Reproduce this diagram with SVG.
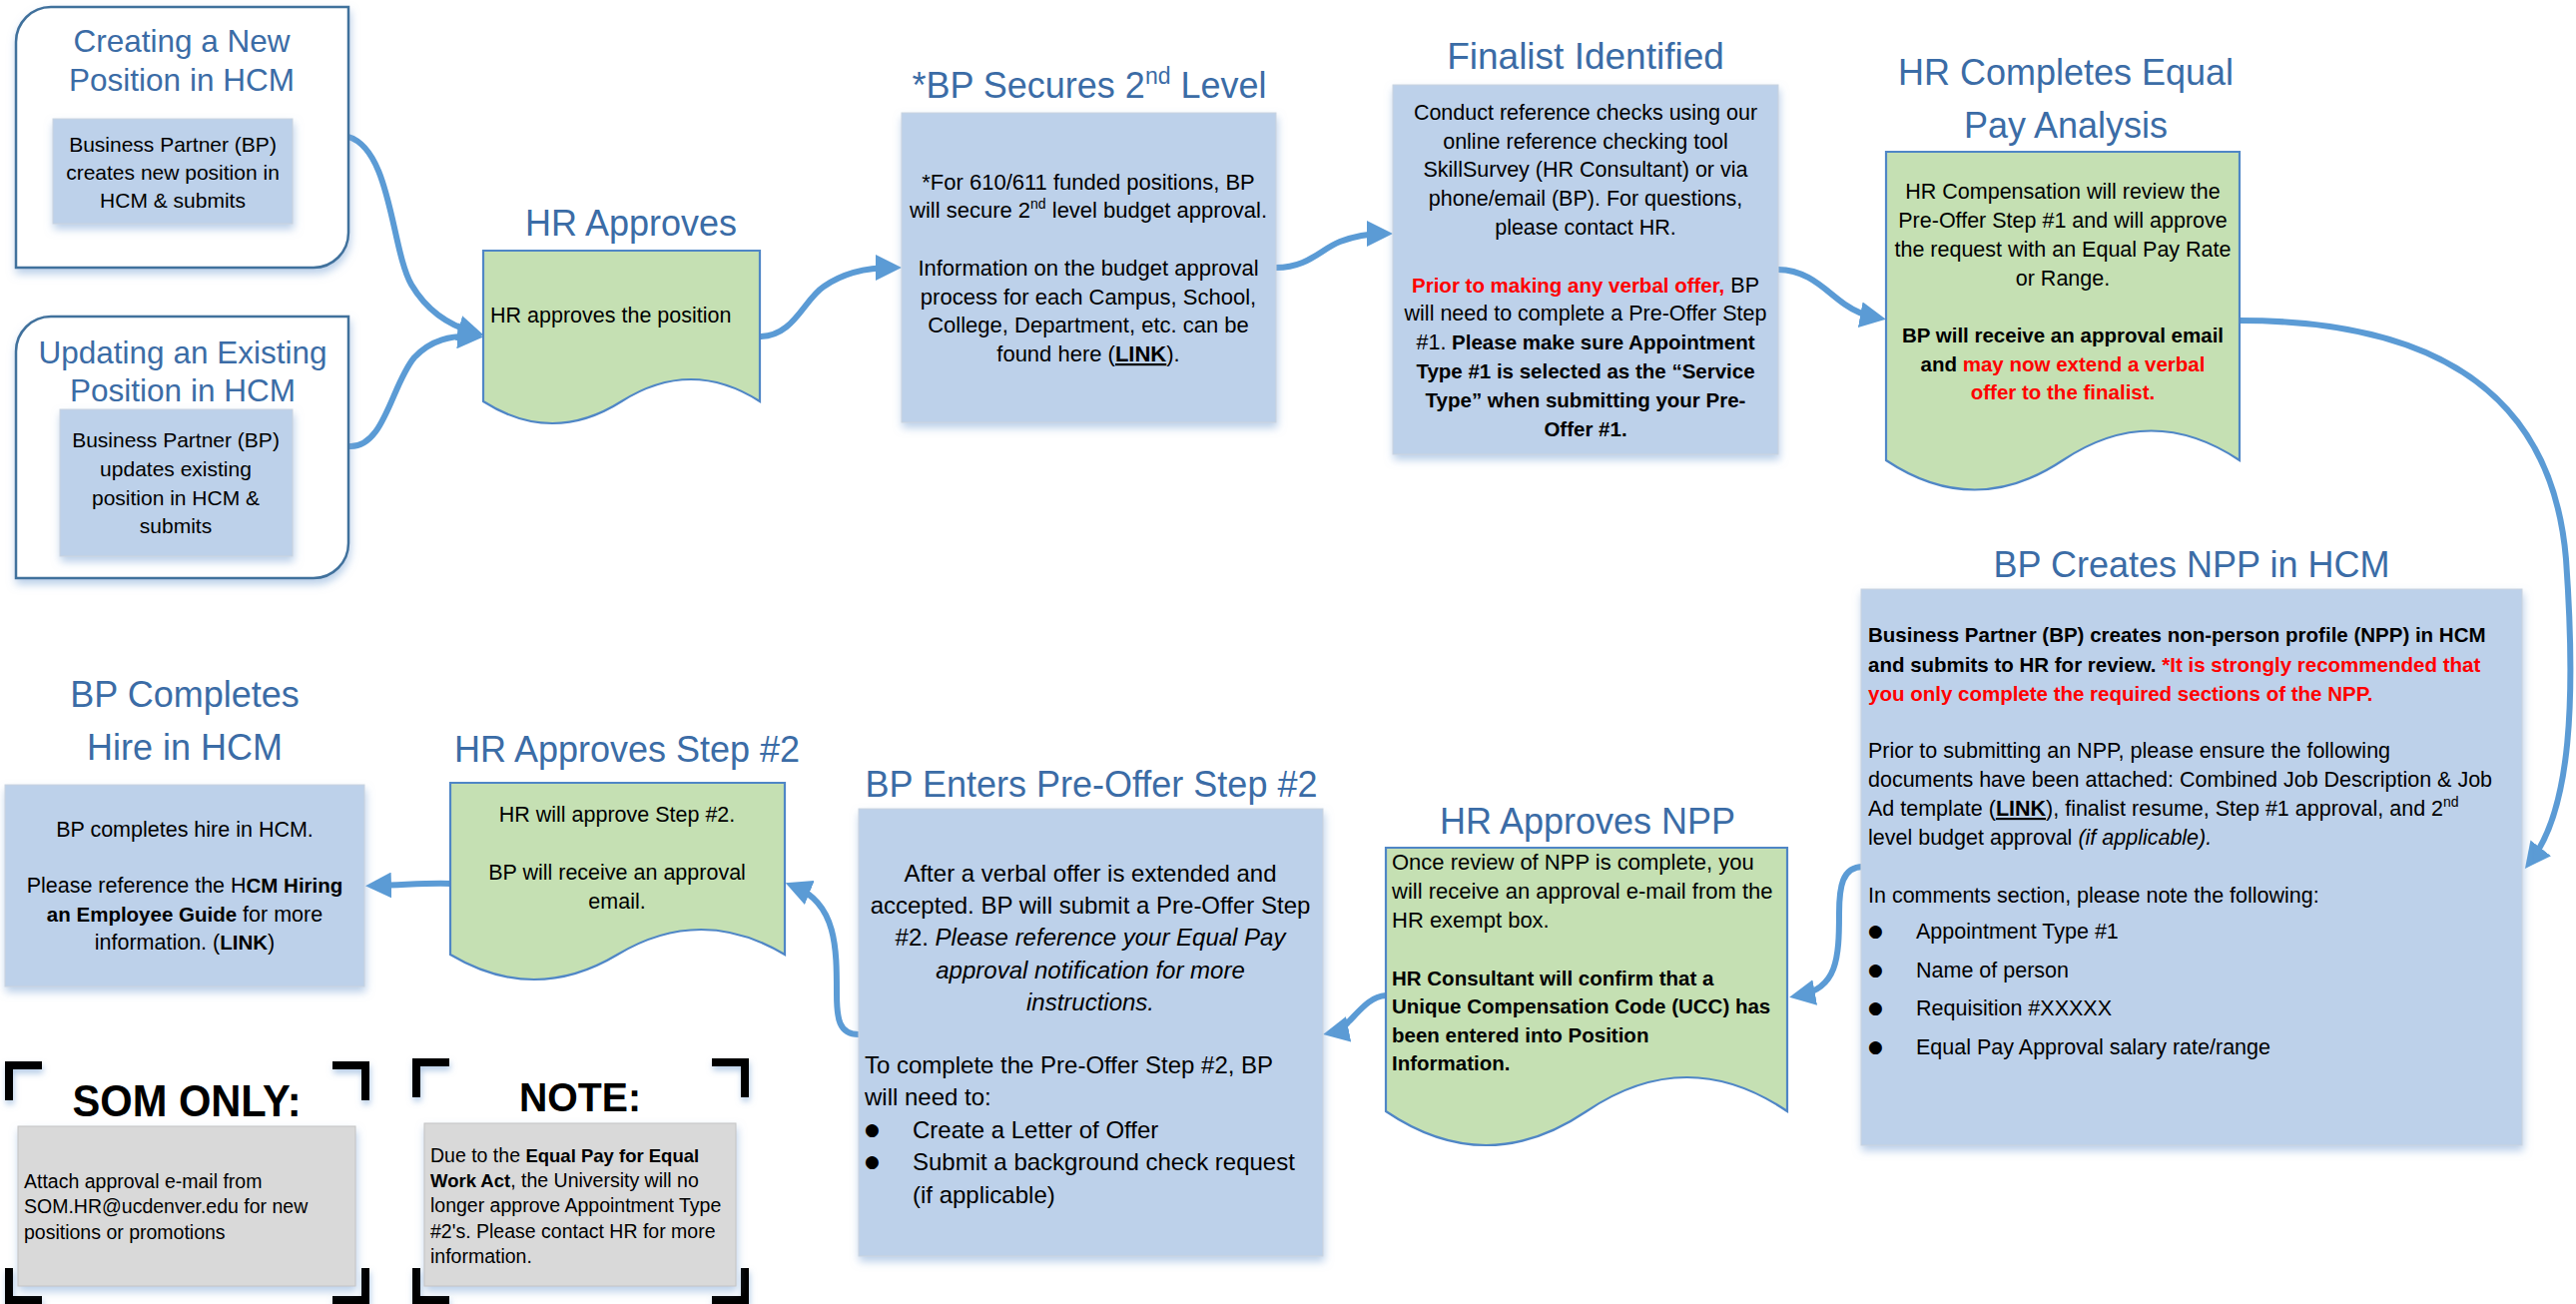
<svg xmlns="http://www.w3.org/2000/svg" width="2580" height="1306" viewBox="0 0 2580 1306">
<style>
text{font-family:"Liberation Sans",Arial,sans-serif;fill:#000}
.ttl{fill:#3B6CA6;font-size:36px;text-anchor:middle}
.ttl2{fill:#3B6CA6;font-size:31.5px;text-anchor:middle}
.c{text-anchor:middle}
.b{font-weight:bold}
.r{fill:#FF0000;font-weight:bold}
.i{font-style:italic}
.u{text-decoration:underline;font-weight:bold}
.outer{fill:#FFFFFF;stroke:#41719C;stroke-width:2.5}
.blue{fill:#BDD1EA;stroke:#C9D3DF;stroke-width:1}
.green{fill:#C5E0B3;stroke:#4F86C6;stroke-width:2.2}
.gray{fill:#D9D9D9;stroke:#C4C4C4;stroke-width:1}
.brk{fill:none;stroke:#000;stroke-width:8;stroke-linejoin:miter}
.con{fill:none;stroke:#5B9BD5;stroke-width:6;stroke-linecap:round;marker-end:url(#ah)}
.bul{font-size:17px;font-family:"DejaVu Sans","Liberation Sans",sans-serif}
</style>
<defs>
<filter id="sh" x="-10%" y="-10%" width="120%" height="130%">
<feDropShadow dx="1" dy="5" stdDeviation="4" flood-color="#7FA7D6" flood-opacity="0.55"/>
</filter>
<filter id="sh2" x="-40%" y="-40%" width="180%" height="180%">
<feDropShadow dx="1" dy="4" stdDeviation="3" flood-color="#7FA7D6" flood-opacity="0.6"/>
</filter>
<marker id="ah" markerUnits="userSpaceOnUse" markerWidth="26" markerHeight="26" refX="16" refY="13" orient="auto">
<path d="M0,0 L26,13 L0,26 Z" fill="#5B9BD5"/>
</marker>
</defs>
<rect width="2580" height="1306" fill="#FFFFFF"/>

<g id="connectors">
<path class="con" d="M349,137 C392,150 392,250 412,285 C428,312 450,326 475,333"/>
<path class="con" d="M349,447 C385,450 392,385 415,358 C432,340 452,336 474,337"/>
<path class="con" d="M761,337 C795,337 805,300 825,287 C845,273 870,268 893,268"/>
<path class="con" d="M1278,268 C1310,268 1322,250 1342,242 C1358,236 1372,234 1385,234"/>
<path class="con" d="M1781,270 C1812,270 1830,293 1848,305 C1858,312 1868,316 1879,318"/>
<path class="con" d="M2243,321 C2420,321 2555,380 2570,560 C2580,700 2575,810 2535,862"/>
<path class="con" d="M1866,868 C1845,868 1842,888 1842,915 C1842,960 1840,990 1802,997"/>
<path class="con" d="M1388,997 C1372,998 1362,1012 1350,1024 C1345,1030 1340,1033 1335,1034"/>
<path class="con" d="M860,1036 C840,1036 838,1020 838,995 C838,950 838,905 796,888"/>
<path class="con" d="M452,885 C430,884 410,886 376,887"/>
</g>

<g id="node-create">
<path class="outer" filter="url(#sh)" d="M51,7 H349 V233 A35,35 0 0 1 314,268 H16 V42 A35,35 0 0 1 51,7 Z"/>
<text class="ttl2" x="182" y="52">Creating a New</text>
<text class="ttl2" x="182" y="91">Position in HCM</text>
<rect class="blue" filter="url(#sh)" x="53" y="119" width="240" height="105"/>
<text class="c" font-size="21" x="173" y="152">Business Partner (BP)</text>
<text class="c" font-size="21" x="173" y="180">creates new position in</text>
<text class="c" font-size="21" x="173" y="208">HCM &amp; submits</text>
</g>

<g id="node-update">
<path class="outer" filter="url(#sh)" d="M51,317 H349 V544 A35,35 0 0 1 314,579 H16 V352 A35,35 0 0 1 51,317 Z"/>
<text class="ttl2" x="183" y="364">Updating an Existing</text>
<text class="ttl2" x="183" y="402">Position in HCM</text>
<rect class="blue" filter="url(#sh)" x="60" y="410" width="233" height="147"/>
<text class="c" font-size="21" x="176" y="448">Business Partner (BP)</text>
<text class="c" font-size="21" x="176" y="477">updates existing</text>
<text class="c" font-size="21" x="176" y="506">position in HCM &amp;</text>
<text class="c" font-size="21" x="176" y="534">submits</text>
</g>

<g id="node-hr-approves">
<text class="ttl" x="632" y="236">HR Approves</text>
<path class="green" d="M484,251 H761 V402 Q692,358 622.5,402 T484,402 Z"/>
<text font-size="21.5" x="491" y="323">HR approves the position</text>
</g>

<g id="node-bp-secures">
<text class="ttl" x="1091" y="98">*BP Secures 2<tspan font-size="23" dy="-14">nd</tspan><tspan dy="14"> Level</tspan></text>
<rect class="blue" filter="url(#sh)" x="903" y="113" width="375" height="310"/>
<g font-size="22">
<text class="c" x="1090" y="190">*For 610/611 funded positions, BP</text>
<text class="c" x="1090" y="218">will secure 2<tspan font-size="14" dy="-9">nd</tspan><tspan dy="9"> level budget approval.</tspan></text>
<text class="c" x="1090" y="276">Information on the budget approval</text>
<text class="c" x="1090" y="305">process for each Campus, School,</text>
<text class="c" x="1090" y="333">College, Department, etc. can be</text>
<text class="c" x="1090" y="362">found here (<tspan class="u">LINK</tspan>).</text>
</g>
</g>

<g id="node-finalist">
<text class="ttl" x="1588" y="69" style="font-size:37px">Finalist Identified</text>
<rect class="blue" filter="url(#sh)" x="1395" y="85" width="386" height="370"/>
<g font-size="21.5">
<text class="c" x="1588" y="120">Conduct reference checks using our</text>
<text class="c" x="1588" y="149">online reference checking tool</text>
<text class="c" x="1588" y="177">SkillSurvey (HR Consultant) or via</text>
<text class="c" x="1588" y="206">phone/email (BP). For questions,</text>
<text class="c" x="1588" y="235">please contact HR.</text>
<text class="c" x="1588" y="293"><tspan class="r" font-size="20.5">Prior to making any verbal offer,</tspan> BP</text>
<text class="c" x="1588" y="321">will need to complete a Pre-Offer Step</text>
<text class="c" x="1588" y="350">#1.<tspan class="b" font-size="20.5"> Please make sure Appointment</tspan></text>
<text class="c b" font-size="20.5" x="1588" y="379">Type #1 is selected as the “Service</text>
<text class="c b" font-size="20.5" x="1588" y="408">Type” when submitting your Pre-</text>
<text class="c b" font-size="20.5" x="1588" y="437">Offer #1.</text>
</g>
</g>

<g id="node-equal-pay">
<text class="ttl" x="2069" y="85">HR Completes Equal</text>
<text class="ttl" x="2069" y="138">Pay Analysis</text>
<path class="green" d="M1889,152 H2243 V461 Q2154.5,402 2066,461 T1889,461 Z"/>
<g font-size="21.5">
<text class="c" x="2066" y="199">HR Compensation will review the</text>
<text class="c" x="2066" y="228">Pre-Offer Step #1 and will approve</text>
<text class="c" x="2066" y="257">the request with an Equal Pay Rate</text>
<text class="c" x="2066" y="286">or Range.</text>
<text class="c b" font-size="20.5" x="2066" y="343">BP will receive an approval email</text>
<text class="c b" font-size="20.5" x="2066" y="372">and <tspan class="r">may now extend a verbal</tspan></text>
<text class="c r" font-size="20.5" x="2066" y="400">offer to the finalist.</text>
</g>
</g>

<g id="node-bp-creates-npp">
<text class="ttl" x="2195" y="578">BP Creates NPP in HCM</text>
<rect class="blue" filter="url(#sh)" x="1864" y="590" width="662" height="557"/>
<g font-size="21.5">
<text class="b" font-size="20.5" x="1871" y="643">Business Partner (BP) creates non-person profile (NPP) in HCM</text>
<text class="b" font-size="20.5" x="1871" y="673">and submits to HR for review. <tspan class="r">*It is strongly recommended that</tspan></text>
<text class="r" font-size="20.5" x="1871" y="702">you only complete the required sections of the NPP.</text>
<text x="1871" y="759">Prior to submitting an NPP, please ensure the following</text>
<text x="1871" y="788">documents have been attached: Combined Job Description &amp; Job</text>
<text x="1871" y="817">Ad template (<tspan class="u">LINK</tspan>), finalist resume, Step #1 approval,  and 2<tspan font-size="14" dy="-9">nd</tspan></text>
<text x="1871" y="846">level budget approval <tspan class="i">(if applicable).</tspan></text>
<text x="1871" y="904">In comments section, please note the following:</text>
<text class="bul" x="1871" y="938">●</text>
<text x="1919" y="940">Appointment Type #1</text>
<text class="bul" x="1871" y="977">●</text>
<text x="1919" y="979">Name of person</text>
<text class="bul" x="1871" y="1015">●</text>
<text x="1919" y="1017">Requisition #XXXXX</text>
<text class="bul" x="1871" y="1054">●</text>
<text x="1919" y="1056">Equal Pay Approval salary rate/range</text>
</g>
</g>

<g id="node-hr-approves-npp">
<text class="ttl" x="1590" y="835">HR Approves NPP</text>
<path class="green" d="M1388,849 H1790 V1113 Q1689.5,1045 1589,1113 T1388,1113 Z"/>
<g font-size="22">
<text x="1394" y="871">Once review of NPP is complete, you</text>
<text x="1394" y="900">will receive an approval e-mail from the</text>
<text x="1394" y="929">HR exempt box.</text>
<text class="b" font-size="20.5" x="1394" y="987">HR Consultant will confirm that a</text>
<text class="b" font-size="20.5" x="1394" y="1015">Unique Compensation Code (UCC) has</text>
<text class="b" font-size="20.5" x="1394" y="1044">been entered into Position</text>
<text class="b" font-size="20.5" x="1394" y="1072">Information.</text>
</g>
</g>

<g id="node-bp-enters-step2">
<text class="ttl" x="1093" y="798">BP Enters Pre-Offer Step #2</text>
<rect class="blue" filter="url(#sh)" x="860" y="810" width="465" height="448"/>
<g font-size="24">
<text class="c" x="1092" y="883">After a verbal offer is extended and</text>
<text class="c" x="1092" y="915">accepted. BP will submit a Pre-Offer Step</text>
<text class="c" x="1092" y="947">#2. <tspan class="i">Please reference your Equal Pay</tspan></text>
<text class="c i" x="1092" y="980">approval notification for more</text>
<text class="c i" x="1092" y="1012">instructions.</text>
<text x="866" y="1075">To complete the Pre-Offer Step #2, BP</text>
<text x="866" y="1107">will need to:</text>
<text class="bul" x="866" y="1137">●</text>
<text x="914" y="1140">Create a Letter of Offer</text>
<text class="bul" x="866" y="1169">●</text>
<text x="914" y="1172">Submit a background check request</text>
<text x="914" y="1205">(if applicable)</text>
</g>
</g>

<g id="node-hr-approves-step2">
<text class="ttl" x="628" y="763">HR Approves Step #2</text>
<path class="green" d="M451,784 H786 V956 Q702,906 618.5,956 T451,956 Z"/>
<g font-size="21.5">
<text class="c" x="618" y="823">HR will approve Step #2.</text>
<text class="c" x="618" y="881">BP will receive an approval</text>
<text class="c" x="618" y="910">email.</text>
</g>
</g>

<g id="node-bp-completes-hire">
<text class="ttl" x="185" y="708">BP Completes</text>
<text class="ttl" x="185" y="761">Hire in HCM</text>
<rect class="blue" filter="url(#sh)" x="5" y="786" width="360" height="202"/>
<g font-size="21.5">
<text class="c" x="185" y="838">BP completes hire in HCM.</text>
<text class="c" x="185" y="894">Please reference the H<tspan class="b" font-size="20.5">CM Hiring</tspan></text>
<text class="c" x="185" y="923"><tspan class="b" font-size="20.5">an Employee Guide</tspan> for more</text>
<text class="c" x="185" y="951">information. (<tspan class="b" font-size="20.5">LINK</tspan>)</text>
</g>
</g>

<g id="node-som-only">
<g filter="url(#sh2)">
<path class="brk" d="M9,1102 V1067 H42"/>
<path class="brk" d="M333,1067 H366 V1102"/>
<path class="brk" d="M9,1270 V1302 H42"/>
<path class="brk" d="M333,1302 H366 V1270"/>
</g>
<text class="c b" font-size="44" x="187" y="1118" textLength="229" lengthAdjust="spacingAndGlyphs">SOM ONLY:</text>
<rect class="gray" filter="url(#sh)" x="18" y="1128" width="338" height="160"/>
<g font-size="19.5">
<text x="24" y="1190">Attach approval e-mail from</text>
<text x="24" y="1215">SOM.HR@ucdenver.edu for new</text>
<text x="24" y="1241">positions or promotions</text>
</g>
</g>

<g id="node-note">
<g filter="url(#sh2)">
<path class="brk" d="M417,1099 V1064 H450"/>
<path class="brk" d="M713,1064 H746 V1099"/>
<path class="brk" d="M417,1270 V1302 H450"/>
<path class="brk" d="M713,1302 H746 V1270"/>
</g>
<text class="c b" font-size="40" x="581" y="1113" textLength="122" lengthAdjust="spacingAndGlyphs">NOTE:</text>
<rect class="gray" filter="url(#sh)" x="425" y="1125" width="312" height="163"/>
<g font-size="19.5">
<text x="431" y="1164">Due to the <tspan class="b" font-size="18.5">Equal Pay for Equal</tspan></text>
<text x="431" y="1189"><tspan class="b" font-size="18.5">Work Act</tspan>, the University will no</text>
<text x="431" y="1214">longer approve Appointment Type</text>
<text x="431" y="1240">#2's. Please contact HR for more</text>
<text x="431" y="1265">information.</text>
</g>
</g>
</svg>
